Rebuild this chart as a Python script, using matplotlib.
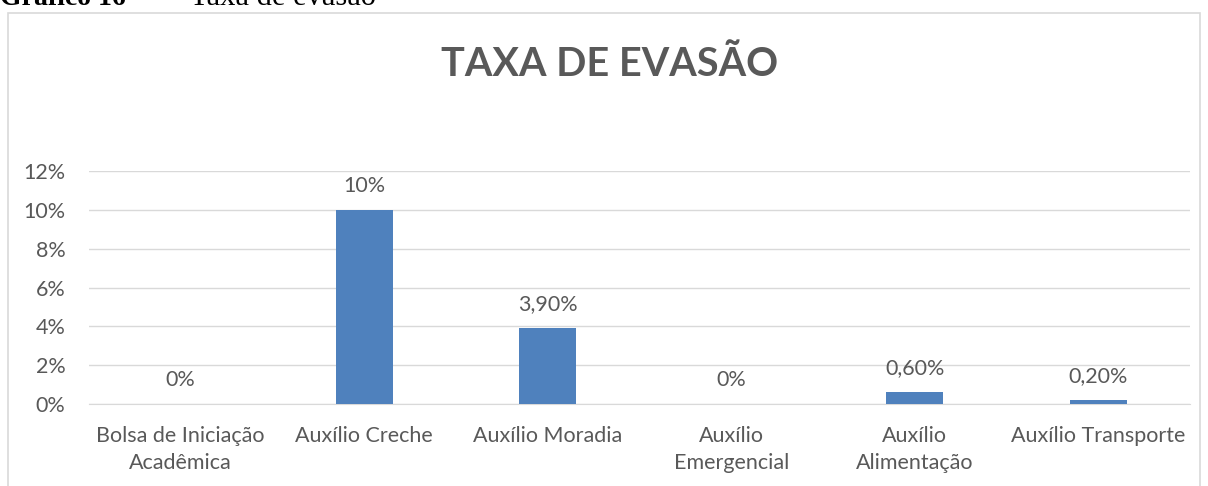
import matplotlib.pyplot as plt
from matplotlib.patches import Rectangle
from matplotlib.ticker import FuncFormatter

categories = ['Bolsa de Iniciação\nAcadêmica', 'Auxílio Creche', 'Auxílio Moradia',
              'Auxílio\nEmergencial', 'Auxílio\nAlimentação', 'Auxílio Transporte']
values = [0.0, 0.10, 0.039, 0.0, 0.006, 0.002]
value_labels = ['0%', '10%', '3,90%', '0%', '0,60%', '0,20%']
yticks = [0, 0.02, 0.04, 0.06, 0.08, 0.10, 0.12]

plt.rcParams['font.family'] = ['Lato', 'DejaVu Sans']
txt = '#595959'
grid = '#D9D9D9'

W, H = 1208, 486
fig = plt.figure(figsize=(W / 100, H / 100), dpi=100)

# caption, cut off at the top like in the source page
base = 1 - 5 / H
fig.text(0, base, 'Gráfico 16', family='Liberation Serif', weight='bold',
         fontsize=20, va='baseline', ha='left', color='black')
fig.text(157 / W, base, '–', family='Liberation Serif',
         fontsize=21.5, va='baseline', ha='left', color='black')
fig.text(190 / W, base, 'Taxa de evasão', family='Liberation Serif',
         fontsize=22, va='baseline', ha='left', color='black')

# chart frame
fig.patches.append(Rectangle((8 / W, -0.1), (1200 - 8) / W, 1.1 - 13 / H,
                             transform=fig.transFigure, fill=False,
                             edgecolor=grid, linewidth=1.2))

fig.text(610 / W, 1 - 65 / H, 'TAXA DE EVASÃO', ha='center', va='center',
         fontsize=28.5, weight='bold', color=txt)

ax = fig.add_axes([89 / W, (H - 404) / H, (1190 - 89) / W, (404 - 171) / H])
x = range(len(categories))
ax.bar(x, values, width=0.31, color='#4F81BD', zorder=3)
for xi, v, lab in zip(x, values, value_labels):
    ax.annotate(lab, (xi, v), xytext=(0, 10), textcoords='offset points',
                ha='center', va='bottom', fontsize=15.5, color=txt)

ax.set_xlim(-0.5, len(categories) - 0.5)
ax.set_ylim(0, 0.12)
ax.set_yticks(yticks)
ax.yaxis.set_major_formatter(FuncFormatter(lambda v, p: f'{v * 100:.0f}%'))
ax.set_xticks(list(x))
ax.set_xticklabels(categories, linespacing=1.45)
ax.grid(axis='y', color=grid, linewidth=1, zorder=0)
ax.tick_params(axis='both', length=0, labelsize=15.5, labelcolor=txt)
ax.tick_params(axis='x', pad=16)
ax.tick_params(axis='y', pad=17)
for s in ['top', 'right', 'left']:
    ax.spines[s].set_visible(False)
ax.spines['bottom'].set_color(grid)

fig.savefig('out.png', dpi=100)
